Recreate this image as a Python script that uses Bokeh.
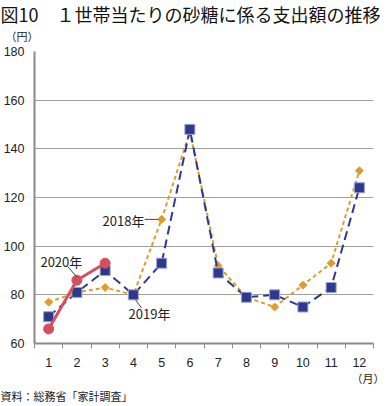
from bokeh.plotting import figure
from bokeh.models import Label, FixedTicker, Title
from bokeh.embed import file_html
from bokeh.resources import INLINE

months = [1, 2, 3, 4, 5, 6, 7, 8, 9, 10, 11, 12]
y2018 = [77, 81, 83, 80, 111, 147, 92, 79, 75, 84, 93, 131]
y2019 = [71, 81, 90, 80, 93, 148, 89, 79, 80, 75, 83, 124]
months2020 = [1, 2, 3]
y2020 = [66, 86, 93]
y_ticks = [60, 80, 100, 120, 140, 160, 180]

title_text = "図10　１世帯当たりの砂糖に係る支出額の推移"
source_text = "資料：総務省「家計調査」"

JP = "Noto Sans CJK JP"
NUM = "Liberation Sans"

p = figure(width=386, height=406, x_range=(0.5, 12.5), y_range=(60, 180),
           output_backend="svg", toolbar_location=None, title=None,
           min_border_left=34, min_border_right=13, min_border_top=51, min_border_bottom=60)
p.outline_line_color = None
p.background_fill_color = "white"
p.border_fill_color = "white"

p.xgrid.grid_line_color = None
p.ygrid.grid_line_color = "#a0a0a0"
p.ygrid.grid_line_width = 1
p.ygrid.ticker = FixedTicker(ticks=y_ticks)

p.yaxis.ticker = FixedTicker(ticks=y_ticks)
p.yaxis.axis_line_color = "#8a8a8a"
p.yaxis.axis_line_width = 2
p.yaxis.major_tick_out = 0
p.yaxis.major_tick_in = 0
p.yaxis.minor_tick_line_color = None
p.yaxis.major_label_standoff = 10
p.yaxis.major_label_text_font = NUM
p.yaxis.major_label_text_font_size = "12.5px"
p.yaxis.major_label_text_color = "#222222"

p.xaxis.ticker = FixedTicker(ticks=months, minor_ticks=[m - 0.5 for m in months] + [months[-1] + 0.5])
p.xaxis.axis_line_color = "#8a8a8a"
p.xaxis.axis_line_width = 2
p.xaxis.major_tick_out = 0
p.xaxis.major_tick_in = 0
p.xaxis.minor_tick_out = 5
p.xaxis.minor_tick_in = 0
p.xaxis.minor_tick_line_color = "#8a8a8a"
p.xaxis.minor_tick_line_width = 1
p.xaxis.major_label_standoff = 9
p.xaxis.major_label_text_font = NUM
p.xaxis.major_label_text_font_size = "12.5px"
p.xaxis.major_label_text_color = "#222222"

orange = "#E09B2D"
navy = "#2D3A8C"
red = "#D4505C"

p.line(months, y2018, line_color=orange, line_width=2, line_dash="4 3")
p.scatter(months, y2018, marker="square", angle=0.785398, size=5.6, fill_color=orange, line_color=orange, line_width=1)

p.line(months, y2019, line_color=navy, line_width=2, line_dash="9 5")
p.scatter(months, y2019, marker="square", size=10, fill_color=navy, line_color="#9aa0d8", line_width=1)

p.line(months2020, y2020, line_color=red, line_width=3)
p.scatter(months2020, y2020, marker="circle", size=10, fill_color=red, line_color=red)

# leader lines for series labels
lead = "#444444"
p.segment(x0=[months[4] - 0.6], y0=[y2018[4]], x1=[months[4] - 0.12], y1=[y2018[4]], line_color=lead, line_width=1)
p.segment(x0=[1.67], y0=[91.7], x1=[1.99], y1=[87.4], line_color=lead, line_width=1)
p.segment(x0=[4.08], y0=[77.9], x1=[4.29], y1=[74.6], line_color=lead, line_width=1)

def lab(x, y, text, size):
    p.add_layout(Label(x=x, y=y, text=text, text_font=JP, text_font_size=size,
                       text_align="left", text_baseline="middle", text_color="#222222"))

lab(2.91, 110.6, "2018年", "13px")
lab(0.71, 93.9, "2020年", "13px")
lab(3.83, 72.2, "2019年", "13px")

# texts outside the plot frame: title panels
p.add_layout(Title(text="（円）", text_font=JP, text_font_size="11px", text_font_style="normal",
                   text_color="#222222", align="left", offset=-29, standoff=16), "above")
p.add_layout(Title(text=title_text, text_font=JP, text_font_size="18px", text_font_style="normal",
                   text_color="#111111", align="left", offset=-34, standoff=-19), "above")
p.add_layout(Title(text="（月）", text_font=JP, text_font_size="11px", text_font_style="normal",
                   text_color="#222222", align="right", offset=-11, standoff=-4), "below")
p.add_layout(Title(text=source_text, text_font=JP, text_font_size="11px", text_font_style="normal",
                   text_color="#222222", align="left", offset=-34, standoff=5), "below")

open("out.html", "w").write(file_html(p, INLINE))
